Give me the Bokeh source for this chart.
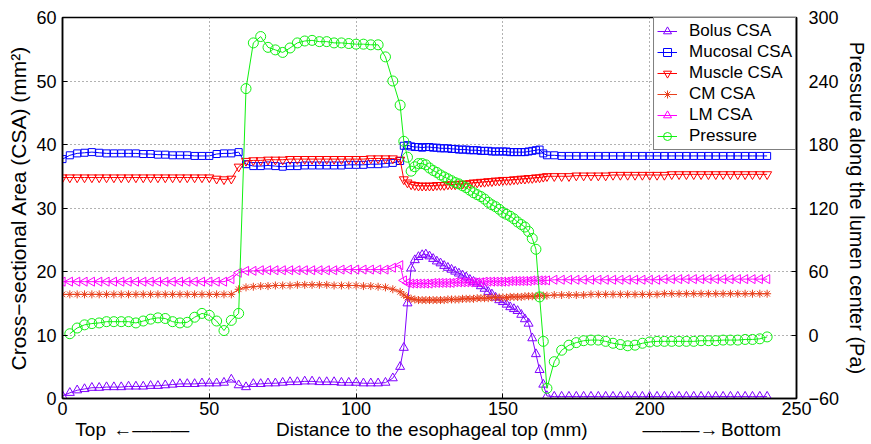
import math
from bokeh.plotting import figure
from bokeh.models import Range1d, LinearAxis, FixedTicker, Legend, LegendItem
from bokeh.embed import file_html
from bokeh.resources import INLINE

# ---------------- data ----------------
distance = [0, 2.5, 5, 7.5, 10, 12.5, 15, 17.5, 20, 22.5, 25, 27.5, 30, 32.5, 35, 37.5, 40, 42.5, 45, 47.5,
            50, 52.5, 55, 57.5, 60, 62.5, 65, 67.5, 70, 72.5, 75, 77.5, 80, 82.5, 85, 87.5, 90, 92.5, 95, 97.5,
            100, 102.5, 105, 107.5, 110, 112.5,
            115, 116.25, 117.5, 118.75, 120, 121.25, 122.5, 123.75, 125, 126.25, 127.5, 128.75, 130, 131.25,
            132.5, 133.75, 135, 136.25, 137.5, 138.75, 140, 141.25, 142.5, 143.75, 145, 146.25, 147.5, 148.75,
            150, 151.25, 152.5, 153.75, 155, 156.25, 157.5, 158.75, 160, 161.25, 162.5, 163.75, 165,
            167.5, 170, 172.5, 175, 177.5, 180, 182.5, 185, 187.5, 190, 192.5, 195, 197.5, 200, 202.5, 205,
            207.5, 210, 212.5, 215, 217.5, 220, 222.5, 225, 227.5, 230, 232.5, 235, 237.5, 240]

bolus_csa = [0.4, 0.9, 1.3, 1.5, 1.7, 1.7, 1.8, 1.8, 1.8, 1.9, 1.9, 1.9, 2.0, 2.0, 2.1, 2.2, 2.3, 2.3, 2.3, 2.4,
             2.4, 2.4, 2.5, 3.0, 2.1, 1.8, 2.3, 2.3, 2.4, 2.4, 2.5, 2.6, 2.6, 2.7, 2.7, 2.6, 2.6, 2.6, 2.5, 2.5,
             2.5, 2.4, 2.4, 2.4, 2.5, 3.2,
             5.0, 8.0, 15.0, 20.5, 21.8, 22.3, 22.6, 22.7, 22.4, 22.0, 21.6, 21.3, 20.9, 20.6, 20.3, 20.0,
             19.7, 19.4, 19.1, 18.7, 18.4, 18.1, 17.7, 17.3, 16.8, 16.4, 15.9, 15.5, 15.2, 14.8, 14.4, 14.1,
             13.8, 13.2, 12.5, 11.8, 9.5, 7.0, 4.5, 2.2, 0.4,
             0.3, 0.3, 0.3, 0.3, 0.3, 0.3, 0.3, 0.3, 0.3, 0.3, 0.3, 0.3, 0.3, 0.3, 0.3, 0.3, 0.3, 0.3, 0.3, 0.3,
             0.3, 0.3, 0.3, 0.3, 0.3, 0.3, 0.3, 0.3, 0.3, 0.3]

mucosal_csa = [37.7, 38.3, 38.6, 38.7, 38.8, 38.7, 38.6, 38.6, 38.6, 38.6, 38.6, 38.5, 38.5, 38.4, 38.4, 38.3,
               38.3, 38.3, 38.2, 38.2, 38.2, 38.5, 38.6, 38.6, 38.8, 36.9, 36.6, 36.6, 36.7, 36.6, 36.5, 36.6,
               36.6, 36.7, 36.7, 36.7, 36.7, 36.7, 36.7, 36.8, 36.8, 36.8, 36.9, 36.9, 37.0, 37.1,
               37.4, 39.8, 39.9, 39.7, 39.6, 39.6, 39.5, 39.6, 39.6, 39.5, 39.5, 39.4, 39.4, 39.4, 39.3, 39.3,
               39.2, 39.2, 39.2, 39.1, 39.1, 39.1, 39.0, 39.0, 39.0, 38.9, 38.9, 38.9, 38.9, 38.9, 38.8, 38.8,
               38.8, 38.8, 38.8, 38.9, 39.0, 39.1, 39.2, 38.6, 38.3,
               38.3, 38.2, 38.2, 38.2, 38.2, 38.2, 38.2, 38.2, 38.2, 38.2, 38.2, 38.2, 38.2, 38.2, 38.2, 38.2,
               38.2, 38.2, 38.2, 38.2, 38.2, 38.2, 38.2, 38.2, 38.2, 38.2, 38.2, 38.2, 38.2, 38.2]

muscle_csa = [34.8, 34.8, 34.8, 34.8, 34.8, 34.8, 34.8, 34.8, 34.8, 34.8, 34.8, 34.8, 34.8, 34.8, 34.8, 34.8,
              34.8, 34.8, 34.8, 34.8, 34.8, 34.6, 34.5, 34.6, 36.5, 37.4, 37.5, 37.5, 37.6, 37.6, 37.6, 37.7,
              37.7, 37.7, 37.7, 37.7, 37.7, 37.7, 37.7, 37.7, 37.7, 37.7, 37.8, 37.8, 37.8, 37.8,
              37.6, 34.5, 34.0, 33.7, 33.6, 33.5, 33.5, 33.5, 33.5, 33.5, 33.6, 33.6, 33.6, 33.7, 33.7, 33.7,
              33.8, 33.8, 33.8, 33.9, 34.0, 34.0, 34.1, 34.1, 34.2, 34.2, 34.3, 34.3, 34.4, 34.4, 34.4, 34.5,
              34.5, 34.6, 34.6, 34.7, 34.7, 34.8, 34.8, 34.9, 35.0,
              35.0, 35.0, 35.0, 35.1, 35.1, 35.1, 35.1, 35.1, 35.2, 35.2, 35.2, 35.2, 35.2, 35.2, 35.2, 35.2,
              35.3, 35.3, 35.3, 35.3, 35.3, 35.3, 35.3, 35.3, 35.3, 35.3, 35.3, 35.3, 35.3, 35.3]

cm_csa = [16.4, 16.4, 16.4, 16.4, 16.4, 16.4, 16.4, 16.4, 16.4, 16.4, 16.4, 16.4, 16.4, 16.4, 16.4, 16.4,
          16.4, 16.4, 16.4, 16.4, 16.4, 16.4, 16.4, 16.4, 17.2, 17.5, 17.6, 17.7, 17.7, 17.8, 17.8, 17.8,
          17.9, 17.9, 17.9, 17.9, 17.9, 17.8, 17.8, 17.8, 17.8, 17.7, 17.7, 17.6, 17.5, 17.2,
          16.8, 16.3, 15.9, 15.7, 15.6, 15.5, 15.5, 15.5, 15.5, 15.5, 15.5, 15.5, 15.5, 15.6, 15.6, 15.6,
          15.6, 15.7, 15.7, 15.7, 15.7, 15.8, 15.8, 15.8, 15.8, 15.9, 15.9, 15.9, 15.9, 15.9, 16.0, 16.0,
          16.0, 16.0, 16.1, 16.1, 16.1, 16.1, 16.2, 16.2, 16.2,
          16.3, 16.3, 16.3, 16.3, 16.3, 16.4, 16.4, 16.4, 16.4, 16.4, 16.4, 16.4, 16.4, 16.4, 16.4, 16.5,
          16.5, 16.5, 16.5, 16.5, 16.5, 16.5, 16.5, 16.5, 16.5, 16.5, 16.5, 16.5, 16.5, 16.5]

lm_csa = [18.4, 18.4, 18.4, 18.4, 18.4, 18.4, 18.4, 18.4, 18.4, 18.4, 18.4, 18.4, 18.4, 18.4, 18.4, 18.4,
          18.4, 18.4, 18.4, 18.4, 18.4, 18.4, 18.4, 18.8, 19.8, 20.1, 20.1, 20.2, 20.2, 20.2, 20.2, 20.2,
          20.2, 20.2, 20.2, 20.2, 20.2, 20.2, 20.3, 20.3, 20.3, 20.3, 20.3, 20.3, 20.3, 20.6,
          21.0, 18.6, 18.2, 18.1, 18.1, 18.1, 18.1, 18.1, 18.1, 18.2, 18.2, 18.2, 18.2, 18.2, 18.2, 18.3,
          18.3, 18.3, 18.3, 18.3, 18.3, 18.3, 18.3, 18.4, 18.4, 18.4, 18.4, 18.4, 18.4, 18.4, 18.5, 18.5,
          18.5, 18.5, 18.5, 18.5, 18.6, 18.6, 18.6, 18.6, 18.6,
          18.7, 18.7, 18.7, 18.7, 18.7, 18.7, 18.7, 18.7, 18.7, 18.7, 18.7, 18.7, 18.7, 18.7, 18.7, 18.8,
          18.8, 18.8, 18.8, 18.8, 18.8, 18.8, 18.8, 18.8, 18.8, 18.8, 18.8, 18.8, 18.8, 18.8]

pressure_pa = [float("nan"), 1.2, 6.6, 9.6, 10.8, 11.4, 12.6, 12.6, 12.6, 12.6, 11.4, 13.2, 15.0, 16.2, 15.6,
               12.6, 11.4, 12.0, 16.8, 20.4, 18.6, 13.2, 4.2, 13.8, 20.4, 232.8, 276.0, 282.0, 271.8, 269.4,
               267.0, 271.2, 276.0, 277.8, 278.4, 277.2, 277.2, 276.0, 276.0, 275.4, 274.8, 274.8, 274.2,
               274.2, 262.8, 240.0,
               217.2, 183.0, 168.0, 154.8, 159.0, 162.0, 162.0, 160.8, 157.8, 155.4, 153.6, 151.2, 149.4,
               147.6, 145.8, 144.0, 142.8, 141.0, 139.2, 136.8, 134.4, 132.6, 130.8, 128.4, 125.4, 123.0,
               121.2, 118.8, 115.8, 114.0, 112.2, 109.8, 106.8, 104.4, 102.0, 97.8, 91.2, 81.0, 36.0, -6.0,
               -50.4,
               -25.2, -14.4, -9.6, -7.2, -5.4, -4.8, -4.8, -6.0, -7.8, -9.0, -10.2, -9.6, -7.8, -6.6, -6.0,
               -6.0, -6.0, -6.0, -6.0, -6.0, -5.4, -5.4, -5.4, -4.8, -4.8, -4.8, -4.2, -4.2, -3.6, -1.8]

x_ticks = [0, 50, 100, 150, 200, 250]
csa_ticks = [0, 10, 20, 30, 40, 50, 60]
pressure_ticks = [-60, 0, 60, 120, 180, 240, 300]

# texts of the line below the x tick labels, keyed by their centre along the distance axis
x_title_row = {9.6: "Top", 30.2: "\u2190\u2015\u2015\u2015",
               125.8: "Distance to the esophageal top (mm)",
               210.5: "\u2015\u2015\u2015\u2192", 234.5: "Bottom"}

FONT = "Liberation Sans"


def style_axis(ax, tick_size="18px", label_size="19px"):
    ax.major_tick_in = 5
    ax.major_tick_out = 0
    ax.minor_tick_line_color = None
    ax.axis_line_width = 1.5
    ax.axis_line_color = "black"
    ax.major_tick_line_color = "black"
    ax.major_label_text_font = FONT
    ax.major_label_text_font_size = tick_size
    ax.major_label_text_color = "black"
    ax.axis_label_text_font = FONT
    ax.axis_label_text_font_size = label_size
    ax.axis_label_text_font_style = "normal"
    ax.axis_label_text_color = "black"


# ---------------- figure ----------------
p = figure(width=871, height=444, x_range=Range1d(0, 250), y_range=Range1d(0, 60),
           output_backend="svg", toolbar_location=None,
           min_border_left=62, min_border_right=68, min_border_top=17, min_border_bottom=46)
p.extra_y_ranges = {"pres": Range1d(-60, 300)}
p.outline_line_color = "black"
p.outline_line_width = 1.5
p.outline_line_alpha = 1.0

xax = p.below[0]
style_axis(xax)
xax.ticker = FixedTicker(ticks=x_ticks)
xax.major_label_standoff = 3

yax = p.left[0]
style_axis(yax, label_size="21px")
yax.ticker = FixedTicker(ticks=csa_ticks)
yax.axis_label = "Cross\u2212sectional Area (CSA) (mm\u00b2)"
yax.major_label_standoff = 6
yax.axis_label_standoff = 3

right = LinearAxis(y_range_name="pres", ticker=FixedTicker(ticks=pressure_ticks),
                   axis_label="Pressure along the lumen center (Pa)")
style_axis(right, label_size="20px")
right.major_label_standoff = 12
right.axis_label_standoff = 4
p.add_layout(right, "right")

# second row under the distance axis: direction hints and the axis title
title_row = LinearAxis(ticker=FixedTicker(ticks=list(x_title_row.keys())),
                       major_label_overrides=x_title_row)
style_axis(title_row, tick_size="19px")
title_row.axis_line_color = None
title_row.major_tick_line_color = None
title_row.major_tick_in = 0
title_row.major_label_standoff = 1
p.add_layout(title_row, "below")

for g in (p.xgrid[0], p.ygrid[0]):
    g.grid_line_color = "#555555"
    g.grid_line_dash = "1 3"
    g.grid_line_width = 1
    g.grid_line_alpha = 0.9

# ---------------- series ----------------
specs = [
    ("Bolus CSA", bolus_csa, "#8000ff", "triangle", 0.0, 9, "default"),
    ("Mucosal CSA", mucosal_csa, "#0000ff", "square", 0.0, 7, "default"),
    ("Muscle CSA", muscle_csa, "#ff0000", "inverted_triangle", 0.0, 9, "default"),
    ("CM CSA", cm_csa, "#e8401c", "asterisk", 0.0, 8, "default"),
    ("LM CSA", lm_csa, "#ff00ff", "triangle", math.pi / 2, 9, "default"),
    ("Pressure", pressure_pa, "#10f010", "circle", 0.0, 10, "pres"),
]
items = []
for name, vals, color, marker, ang, size, rng in specs:
    ln = p.line(distance, vals, line_color=color, line_width=1, y_range_name=rng)
    sc = p.scatter(distance, vals, marker=marker, size=size, angle=ang, line_color=color,
                   fill_color=None, line_width=1, y_range_name=rng)
    items.append(LegendItem(label=name, renderers=[ln, sc]))

legend = Legend(items=items, location="top_right", margin=0, padding=3, spacing=1,
                glyph_height=20, glyph_width=20, label_height=20, label_standoff=12,
                label_text_font=FONT, label_text_font_size="17px", label_text_color="black",
                border_line_color="black", border_line_width=1.2, background_fill_alpha=1.0)
p.add_layout(legend)

open("out.html", "w").write(file_html(p, INLINE))
